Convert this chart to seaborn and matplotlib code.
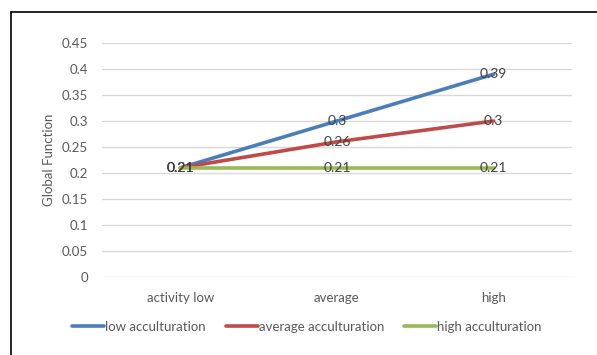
import matplotlib
matplotlib.use("Agg")
import matplotlib.pyplot as plt
from matplotlib.lines import Line2D
import seaborn as sns
import pandas as pd

categories = ["activity low", "average", "high"]
low_acc = [0.21, 0.30, 0.39]
avg_acc = [0.21, 0.26, 0.30]
high_acc = [0.21, 0.21, 0.21]
series_names = ["low acculturation", "average acculturation", "high acculturation"]
colors = ["#4A7EBB", "#BE4B48", "#98B954"]
y_ticks = [0, 0.05, 0.1, 0.15, 0.2, 0.25, 0.3, 0.35, 0.4, 0.45]

rows = []
for name, vals in zip(series_names, [low_acc, avg_acc, high_acc]):
    for cat, v in zip(categories, vals):
        rows.append({"activity": cat, "value": v, "series": name})
df = pd.DataFrame(rows)

sns.set_theme(style="white")
plt.rcParams["font.family"] = ["Lato", "DejaVu Sans"]
text_color = "#595959"
fs = 9.5

fig = plt.figure(figsize=(5.97, 3.55), dpi=100)
ax = fig.add_axes([102 / 597, 1 - 277 / 355, 470 / 597, 234 / 355])

sns.lineplot(data=df, x="activity", y="value", hue="series", hue_order=series_names,
             palette=colors, linewidth=2.6, ax=ax, legend=False, sort=False,
             solid_capstyle="round")

ax.set_xlim(-0.5, 2.5)
ax.set_ylim(0, 0.45)
ax.set_yticks(y_ticks)
ax.set_yticklabels([f"{t:g}" for t in y_ticks])
ax.grid(axis="y", color="#D9D9D9", linewidth=1)
ax.set_axisbelow(True)
for s in ax.spines.values():
    s.set_visible(False)
ax.tick_params(axis="both", length=0, labelsize=fs, labelcolor=text_color)
ax.tick_params(axis="y", pad=10)
ax.tick_params(axis="x", pad=11)
ax.set_xlabel("")
ax.set_ylabel("Global Function", fontsize=fs, color=text_color, labelpad=5)

# data labels centred on each point
for vals in [low_acc, avg_acc, high_acc]:
    for i, v in enumerate(vals):
        ax.text(i, v, f"{v:g}", ha="center", va="center", fontsize=10, color="#404040")

handles = [Line2D([0], [0], color=c, linewidth=2.6) for c in colors]
fig.legend(handles, series_names, loc="center", bbox_to_anchor=(307 / 597, 1 - 327 / 355),
           ncol=3, frameon=False, fontsize=fs, handlelength=2.4, handletextpad=0.1,
           columnspacing=1.5, labelcolor=text_color)

# outer chart border (left and top edges)
fig.add_artist(Line2D([10.5 / 597, 10.5 / 597], [0, 1 - 12 / 355], color="black", linewidth=1.2,
                      transform=fig.transFigure))
fig.add_artist(Line2D([10.5 / 597, 1], [1 - 12 / 355, 1 - 12 / 355], color="black", linewidth=1.2,
                      transform=fig.transFigure))

fig.savefig("out.png", dpi=100)
